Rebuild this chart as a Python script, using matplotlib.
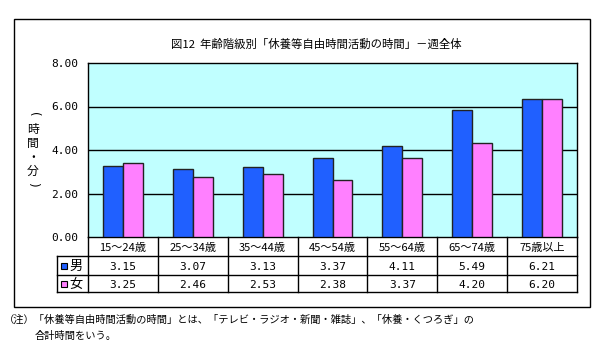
import matplotlib
matplotlib.use("Agg")
import matplotlib.pyplot as plt
import matplotlib.transforms as mtransforms
import numpy as np
from matplotlib.patches import Rectangle

plt.rcParams["font.family"] = ["Noto Sans CJK JP", "DejaVu Sans"]

categories = ["15～24歳", "25～34歳", "35～44歳", "45～54歳", "55～64歳", "65～74歳", "75歳以上"]
# values are hours.minutes (e.g. 3.15 = 3h15m)
male = [3.15, 3.07, 3.13, 3.37, 4.11, 5.49, 6.21]
female = [3.25, 2.46, 2.53, 2.38, 3.37, 4.20, 6.20]
series_names = ["男", "女"]
y_ticks = [0, 2, 4, 6, 8]

MALE_COLOR = "#2060ff"
FEMALE_COLOR = "#ff80ff"
BG_COLOR = "#c0ffff"
MONO = "DejaVu Sans Mono"

W, H = 608, 343


def to_hours(values):
    out = []
    for v in values:
        h = int(v)
        m = round((v - h) * 100)
        out.append(h + m / 60)
    return np.array(out)


def main() -> None:
    fig = plt.figure(figsize=(W / 100, H / 100), dpi=100)
    px = mtransforms.Affine2D().scale(1 / W, -1 / H).translate(0, 1) + fig.transFigure

    left, right, top, bottom = 88, 577, 63, 237
    ax = fig.add_axes([left / W, (H - bottom) / H, (right - left) / W, (bottom - top) / H])
    ax.set_facecolor(BG_COLOR)

    n = len(categories)
    x = np.arange(n)
    bw = 0.286
    ax.bar(x - bw / 2, to_hours(male), bw, color=MALE_COLOR, edgecolor="#222222", linewidth=1, zorder=3)
    ax.bar(x + bw / 2, to_hours(female), bw, color=FEMALE_COLOR, edgecolor="#222222", linewidth=1, zorder=3)

    ax.set_xlim(-0.5, n - 0.5)
    ax.set_ylim(0, 8)
    ax.set_yticks(y_ticks)
    ax.set_yticklabels([f"{t:.2f}" for t in y_ticks], fontfamily=MONO, fontsize=8)
    ax.set_xticks([])
    ax.tick_params(axis="y", length=0, pad=7)
    for t in y_ticks[1:-1]:
        ax.axhline(t, color="black", linewidth=1, zorder=1)
    for s in ax.spines.values():
        s.set_color("black")
        s.set_linewidth(1)

    # data table under the plot
    bt = mtransforms.blended_transform_factory(ax.transData, px)
    row_y = [bottom, 256, 275, 292]
    legend_left = 57
    lk = dict(color="black", linewidth=1, transform=px, clip_on=False)
    fig.add_artist(plt.Line2D([left, right], [row_y[1], row_y[1]], **lk))
    fig.add_artist(plt.Line2D([legend_left, left], [row_y[1], row_y[1]], **lk))
    fig.add_artist(plt.Line2D([legend_left, right], [row_y[2], row_y[2]], **lk))
    fig.add_artist(plt.Line2D([legend_left, right], [row_y[3], row_y[3]], **lk))
    fig.add_artist(plt.Line2D([legend_left, legend_left], [row_y[1], row_y[3]], **lk))
    fig.add_artist(plt.Line2D([left, left], [row_y[0], row_y[3]], **lk))
    for b in np.arange(0.5, n - 0.5, 1.0):
        fig.add_artist(plt.Line2D([b, b], [row_y[0], row_y[3]], color="black", linewidth=1,
                                  transform=bt, clip_on=False))
    fig.add_artist(plt.Line2D([right, right], [row_y[0], row_y[3]], **lk))

    for i, cat in enumerate(categories):
        fig.text(i, (row_y[0] + row_y[1]) / 2 + 1, cat, transform=bt,
                 fontsize=8, ha="center", va="center")
        fig.text(i, (row_y[1] + row_y[2]) / 2 + 1, f"{male[i]:.2f}", transform=bt,
                 fontsize=8, fontfamily=MONO, ha="center", va="center")
        fig.text(i, (row_y[2] + row_y[3]) / 2 + 1, f"{female[i]:.2f}", transform=bt,
                 fontsize=8, fontfamily=MONO, ha="center", va="center")

    for name, color, (y0, y1) in zip(series_names, [MALE_COLOR, FEMALE_COLOR],
                                     [(row_y[1], row_y[2]), (row_y[2], row_y[3])]):
        yc = (y0 + y1) / 2
        fig.add_artist(Rectangle((61, yc - 3), 6, 6, facecolor=color, edgecolor="black",
                                 linewidth=0.8, transform=px))
        fig.text(69, yc + 1, name, transform=px, fontsize=9.5, ha="left", va="center")

    # y-axis label (vertical writing)
    fig.text(33, 114, "(", transform=px, fontsize=8.5, fontfamily="DejaVu Sans",
             ha="center", va="center", rotation=-90)
    fig.text(33, 150, "時\n間\n・\n分", transform=px, fontsize=8.5,
             ha="center", va="center", linespacing=1.1)
    fig.text(33, 184, ")", transform=px, fontsize=8.5, fontfamily="DejaVu Sans",
             ha="center", va="center", rotation=-90)

    fig.text(316, 44, "図12  年齢階級別「休養等自由時間活動の時間」－週全体", transform=px,
             fontsize=8.2, ha="center", va="center")

    # outer frame
    fig.add_artist(Rectangle((14, 307), 576, -288, fill=False, edgecolor="black",
                             linewidth=1, transform=px))

    fig.text(4, 320, "（注）「休養等自由時間活動の時間」とは、「テレビ・ラジオ・新聞・雑誌」、「休養・くつろぎ」の",
             transform=px, fontsize=7.4, ha="left", va="center")
    fig.text(35, 336, "合計時間をいう。", transform=px, fontsize=7.4, ha="left", va="center")

    fig.savefig("out.png", dpi=100, facecolor="white")


if __name__ == "__main__":
    main()
